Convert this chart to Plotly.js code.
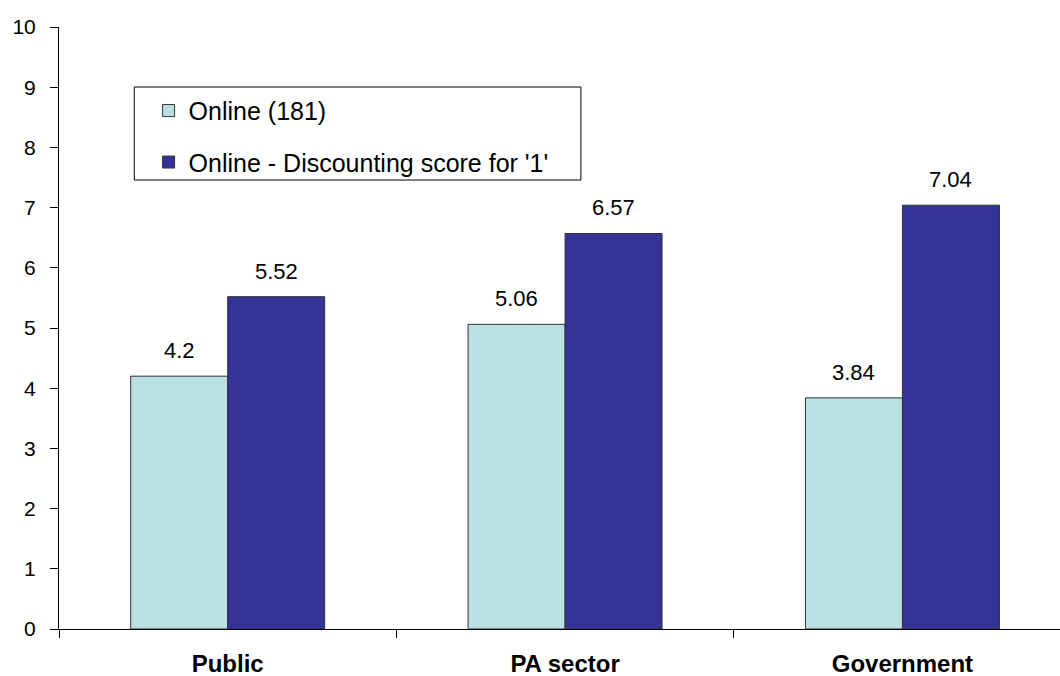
<!DOCTYPE html>
<html>
<head>
<meta charset="utf-8">
<script src="https://cdn.plot.ly/plotly-3.0.1.min.js"></script>
<style>html,body{margin:0;padding:0;background:#fff;overflow:hidden;}</style>
</head>
<body>
<div id="chart" style="width:1060px;height:676px;"></div>
<script>
const categories = ["Public", "PA sector", "Government"];
const seriesNames = ["Online (181)", "Online - Discounting score for '1'"];
const onlineValues = [4.2, 5.06, 3.84];
const discountValues = [5.52, 6.57, 7.04];
const yTickValues = [0, 1, 2, 3, 4, 5, 6, 7, 8, 9, 10];

const FONT = "Liberation Sans, Arial, sans-serif";
const colors = ["#BBE0E3", "#333399"];

const traces = [
  {
    type: "bar", name: seriesNames[0], x: categories, y: onlineValues,
    marker: {color: colors[0], line: {color: "#333333", width: 1}},
    legendgroup: "a", hoverinfo: "none"
  },
  {
    type: "bar", name: seriesNames[1], x: categories, y: discountValues,
    marker: {color: colors[1], line: {color: "#333333", width: 1}},
    legendgroup: "b", hoverinfo: "none"
  }
];

const annotations = [];
const allSeries = [onlineValues, discountValues];
allSeries.forEach((vals, s) => {
  vals.forEach((v, i) => {
    annotations.push({
      x: categories[i], y: v, xref: "x", yref: "y",
      text: String(v), showarrow: false,
      xshift: s === 0 ? -48.5 : 48.5, yshift: 11,
      yanchor: "bottom", xanchor: "center",
      font: {family: FONT, size: 22, color: "#000"}
    });
  });
});

const layout = {
  width: 1060, height: 676,
  margin: {l: 59, r: 0, t: 27, b: 47},
  paper_bgcolor: "#fff", plot_bgcolor: "#fff",
  barmode: "group", bargap: 0.425, bargroupgap: 0,
  font: {family: FONT, color: "#000"},
  showlegend: true,
  legend: {
    x: 0.0895, y: 0.899, xanchor: "left", yanchor: "top",
    bgcolor: "rgba(0,0,0,0)", borderwidth: 0,
    font: {family: FONT, size: 25, color: "#000"},
    traceorder: "grouped", tracegroupgap: 16
  },
  xaxis: {
    type: "category", range: [-0.5, 2.467],
    showline: true, linecolor: "#000", linewidth: 1,
    ticks: "outside", tickson: "boundaries", ticklen: 8, tickcolor: "#000",
    showgrid: false, zeroline: false,
    tickfont: {family: FONT, size: 24, color: "#000", weight: "bold"},
    ticklabelstandoff: 13, fixedrange: true
  },
  yaxis: {
    range: [0, 10], tickvals: yTickValues,
    showline: true, linecolor: "#000", linewidth: 1,
    ticks: "outside", ticklen: 8, tickcolor: "#000",
    showgrid: false, zeroline: false,
    tickfont: {family: FONT, size: 21, color: "#000"},
    ticklabelstandoff: 10, fixedrange: true
  },
  shapes: [{
    type: "rect", xref: "paper", yref: "paper",
    x0: 0.0752, x1: 0.5214, y0: 0.7458, y1: 0.9003,
    line: {color: "#000", width: 1}, fillcolor: "rgba(0,0,0,0)"
  }],
  annotations: annotations
};

Plotly.newPlot("chart", traces, layout, {displayModeBar: false, staticPlot: true});
</script>
</body>
</html>
